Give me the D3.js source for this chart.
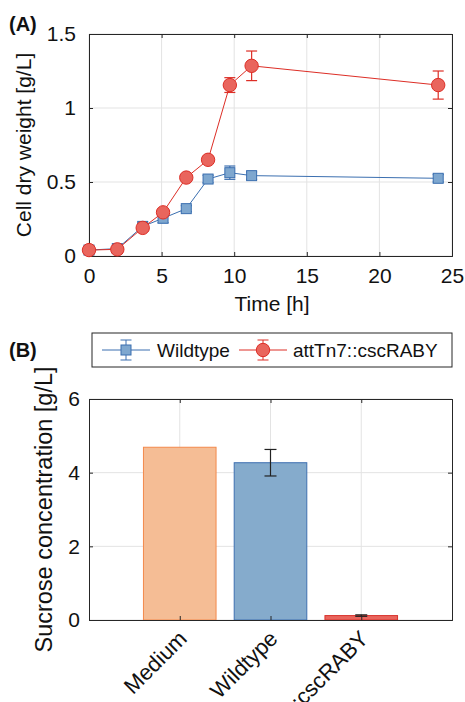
<!DOCTYPE html>
<html>
<head>
<meta charset="utf-8">
<script src="https://d3js.org/d3.v7.min.js"></script>
<style>
  body { margin: 0; background: #fff; }
  svg text { font-family: "Liberation Sans", Arial, Helvetica, sans-serif; fill: #111; }
</style>
</head>
<body>
<script>
// panel A: growth curves
var time = [0, 1.95, 3.7, 5.1, 6.7, 8.2, 9.7, 11.2, 24.05];
var wtMean = [0.04, 0.05, 0.2, 0.255, 0.32, 0.52, 0.563, 0.543, 0.525];
var wtErr = [0.01, 0.01, 0.02, 0.03, 0.02, 0.025, 0.045, 0.025, 0.025];
var cscMean = [0.04, 0.045, 0.19, 0.295, 0.53, 0.65, 1.155, 1.285, 1.155];
var cscErr = [0.01, 0.01, 0.015, 0.015, 0.015, 0.02, 0.05, 0.1, 0.095];
var xTicksA = [0, 5, 10, 15, 20, 25];
var yTicksA = [0, 0.5, 1, 1.5];

// panel B: sucrose bars
var barNames = ["Medium", "Wildtype", "attTn7::cscRABY"];
var barVals = [4.69, 4.27, 0.12];
var barErr = [0, 0.36, 0.02];
var yTicksB = [0, 2, 4, 6];

var blueFill = "#7ea7cf", blueLine = "#3b6fb0";
var redFill = "#e9655d", redLine = "#dd2e26";
var barFill = ["#f5bd95", "#85abcc", "#e9655d"];
var barLine = ["#f3894c", "#3e6fb0", "#d9322d"];
var axisCol = "#262626", gridCol = "#e3e3e3";

var svg = d3.select("body").append("svg")
  .attr("width", 465).attr("height", 702);

//----- panel A
var ax = {left: 89, right: 452, top: 34, bottom: 256};
var x = d3.scaleLinear().domain([0, 25]).range([ax.left, ax.right]);
var y = d3.scaleLinear().domain([0, 1.5]).range([ax.bottom, ax.top]);

var gA = svg.append("g");
// grid
gA.selectAll(".gx").data(xTicksA).enter().append("line")
  .attr("x1", d => x(d)).attr("x2", d => x(d))
  .attr("y1", ax.top).attr("y2", ax.bottom)
  .attr("stroke", gridCol).attr("stroke-width", 1);
gA.selectAll(".gy").data(yTicksA).enter().append("line")
  .attr("y1", d => y(d)).attr("y2", d => y(d))
  .attr("x1", ax.left).attr("x2", ax.right)
  .attr("stroke", gridCol).attr("stroke-width", 1);

// axes (inward ticks, boxed)
gA.append("g").attr("transform", "translate(0," + ax.bottom + ")")
  .call(d3.axisBottom(x).tickValues(xTicksA).tickSize(-4).tickPadding(12).tickFormat(d3.format("d")));
gA.append("g").attr("transform", "translate(" + ax.left + ",0)")
  .call(d3.axisLeft(y).tickValues(yTicksA).tickSize(-4).tickPadding(13).tickFormat(d => d));
gA.append("g").attr("transform", "translate(0," + ax.top + ")")
  .call(d3.axisTop(x).tickValues(xTicksA).tickSize(-4).tickFormat(""));
gA.append("g").attr("transform", "translate(" + ax.right + ",0)")
  .call(d3.axisRight(y).tickValues(yTicksA).tickSize(-4).tickFormat(""));
gA.selectAll(".domain").attr("stroke", axisCol).attr("stroke-width", 1);
gA.selectAll(".tick line").attr("stroke", axisCol);
gA.selectAll(".tick text").attr("font-size", 21).attr("fill", "#111");

gA.append("text").attr("x", 272).attr("y", 311).attr("text-anchor", "middle")
  .attr("font-size", 21).text("Time [h]");
gA.append("text").attr("transform", "translate(31," + ((ax.top + ax.bottom) / 2) + ") rotate(-90)")
  .attr("text-anchor", "middle").attr("font-size", 21).text("Cell dry weight [g/L]");
svg.append("text").attr("x", 9).attr("y", 31).attr("font-size", 20)
  .attr("font-weight", "bold").text("(A)");

function drawSeries(g, means, errs, lineCol, fillCol, shape) {
  var pts = time.map((t, i) => ({t: t, m: means[i], e: errs[i]}));
  g.append("path").datum(pts)
    .attr("fill", "none").attr("stroke", lineCol).attr("stroke-width", 1)
    .attr("d", d3.line().x(d => x(d.t)).y(d => y(d.m)));
  var eb = g.selectAll(null).data(pts).enter().append("g").attr("stroke", lineCol).attr("stroke-width", 1.2);
  eb.append("line").attr("x1", d => x(d.t)).attr("x2", d => x(d.t))
    .attr("y1", d => y(d.m - d.e)).attr("y2", d => y(d.m + d.e));
  eb.append("line").attr("x1", d => x(d.t) - 5.5).attr("x2", d => x(d.t) + 5.5)
    .attr("y1", d => y(d.m - d.e)).attr("y2", d => y(d.m - d.e));
  eb.append("line").attr("x1", d => x(d.t) - 5.5).attr("x2", d => x(d.t) + 5.5)
    .attr("y1", d => y(d.m + d.e)).attr("y2", d => y(d.m + d.e));
  if (shape === "square") {
    g.selectAll(null).data(pts).enter().append("rect")
      .attr("x", d => x(d.t) - 5).attr("y", d => y(d.m) - 5)
      .attr("width", 10).attr("height", 10)
      .attr("fill", fillCol).attr("stroke", lineCol).attr("stroke-width", 1);
  } else {
    g.selectAll(null).data(pts).enter().append("circle")
      .attr("cx", d => x(d.t)).attr("cy", d => y(d.m)).attr("r", 6.7)
      .attr("fill", fillCol).attr("stroke", lineCol).attr("stroke-width", 1);
  }
}
drawSeries(gA.append("g"), wtMean, wtErr, blueLine, blueFill, "square");
drawSeries(gA.append("g"), cscMean, cscErr, redLine, redFill, "circle");

//----- legend
var lg = svg.append("g");
lg.append("rect").attr("x", 92).attr("y", 333).attr("width", 360).attr("height", 34)
  .attr("fill", "#fff").attr("stroke", axisCol).attr("stroke-width", 1);
function legendItem(x0, col, fillCol, shape, label, tx) {
  var cy = 350, cx = x0 + 24;
  lg.append("line").attr("x1", x0).attr("x2", x0 + 48).attr("y1", cy).attr("y2", cy)
    .attr("stroke", col).attr("stroke-width", 1);
  lg.append("line").attr("x1", cx).attr("x2", cx).attr("y1", cy - 10).attr("y2", cy + 10).attr("stroke", col);
  lg.append("line").attr("x1", cx - 5.5).attr("x2", cx + 5.5).attr("y1", cy - 10).attr("y2", cy - 10).attr("stroke", col);
  lg.append("line").attr("x1", cx - 5.5).attr("x2", cx + 5.5).attr("y1", cy + 10).attr("y2", cy + 10).attr("stroke", col);
  if (shape === "square") {
    lg.append("rect").attr("x", cx - 5).attr("y", cy - 5).attr("width", 10).attr("height", 10)
      .attr("fill", fillCol).attr("stroke", col);
  } else {
    lg.append("circle").attr("cx", cx).attr("cy", cy).attr("r", 6.7).attr("fill", fillCol).attr("stroke", col);
  }
  lg.append("text").attr("x", tx).attr("y", 357).attr("font-size", 19).text(label);
}
legendItem(102, blueLine, blueFill, "square", "Wildtype", 157);
legendItem(239, redLine, redFill, "circle", "attTn7::cscRABY", 293);
svg.append("text").attr("x", 9).attr("y", 357).attr("font-size", 20)
  .attr("font-weight", "bold").text("(B)");

//----- panel B
var bx = {left: 89, right: 452, top: 399, bottom: 620};
var xb = d3.scaleLinear().domain([0, 4]).range([bx.left, bx.right]);
var yb = d3.scaleLinear().domain([0, 6]).range([bx.bottom, bx.top]);
var pos = barNames.map((d, i) => i + 1);

var gB = svg.append("g");
gB.selectAll(".gx").data(pos).enter().append("line")
  .attr("x1", d => xb(d)).attr("x2", d => xb(d)).attr("y1", bx.top).attr("y2", bx.bottom)
  .attr("stroke", gridCol);
gB.selectAll(".gy").data(yTicksB).enter().append("line")
  .attr("y1", d => yb(d)).attr("y2", d => yb(d)).attr("x1", bx.left).attr("x2", bx.right)
  .attr("stroke", gridCol);

gB.selectAll(".bar").data(barVals).enter().append("rect")
  .attr("x", (d, i) => xb(pos[i] - 0.4)).attr("width", xb(0.8) - xb(0))
  .attr("y", d => yb(d)).attr("height", d => yb(0) - yb(d))
  .attr("fill", (d, i) => barFill[i]).attr("stroke", (d, i) => barLine[i]).attr("stroke-width", 1);

var ebB = gB.selectAll(".err").data(barVals).enter().append("g")
  .attr("stroke", "#222").attr("stroke-width", 1.2)
  .style("display", (d, i) => barErr[i] > 0 ? null : "none");
ebB.append("line").attr("x1", (d, i) => xb(pos[i])).attr("x2", (d, i) => xb(pos[i]))
  .attr("y1", (d, i) => yb(d - barErr[i])).attr("y2", (d, i) => yb(d + barErr[i]));
ebB.append("line").attr("x1", (d, i) => xb(pos[i]) - 6).attr("x2", (d, i) => xb(pos[i]) + 6)
  .attr("y1", (d, i) => yb(d - barErr[i])).attr("y2", (d, i) => yb(d - barErr[i]));
ebB.append("line").attr("x1", (d, i) => xb(pos[i]) - 6).attr("x2", (d, i) => xb(pos[i]) + 6)
  .attr("y1", (d, i) => yb(d + barErr[i])).attr("y2", (d, i) => yb(d + barErr[i]));

var axB = gB.append("g").attr("transform", "translate(0," + bx.bottom + ")")
  .call(d3.axisBottom(xb).tickValues(pos).tickSize(-4).tickFormat((d, i) => barNames[i]));
gB.append("g").attr("transform", "translate(" + bx.left + ",0)")
  .call(d3.axisLeft(yb).tickValues(yTicksB).tickSize(-4).tickPadding(9).tickFormat(d3.format("d")));
gB.append("g").attr("transform", "translate(0," + bx.top + ")")
  .call(d3.axisTop(xb).tickValues(pos).tickSize(-4).tickFormat(""));
gB.append("g").attr("transform", "translate(" + bx.right + ",0)")
  .call(d3.axisRight(yb).tickValues(yTicksB).tickSize(-4).tickFormat(""));
gB.selectAll(".domain").attr("stroke", axisCol);
gB.selectAll(".tick line").attr("stroke", axisCol);
gB.selectAll(".tick text").attr("font-size", 21).attr("fill", "#111");
// rotated category labels; the long one runs off the bottom as in the original
axB.selectAll(".tick text")
  .attr("font-size", 22).attr("text-anchor", "end")
  .attr("x", 0).attr("y", 0).attr("dy", 0)
  .attr("transform", "translate(8,20) rotate(-45)");

gB.append("text").attr("transform", "translate(52," + ((bx.top + bx.bottom) / 2) + ") rotate(-90)")
  .attr("text-anchor", "middle").attr("font-size", 23.5).text("Sucrose concentration [g/L]");
</script>
</body>
</html>
